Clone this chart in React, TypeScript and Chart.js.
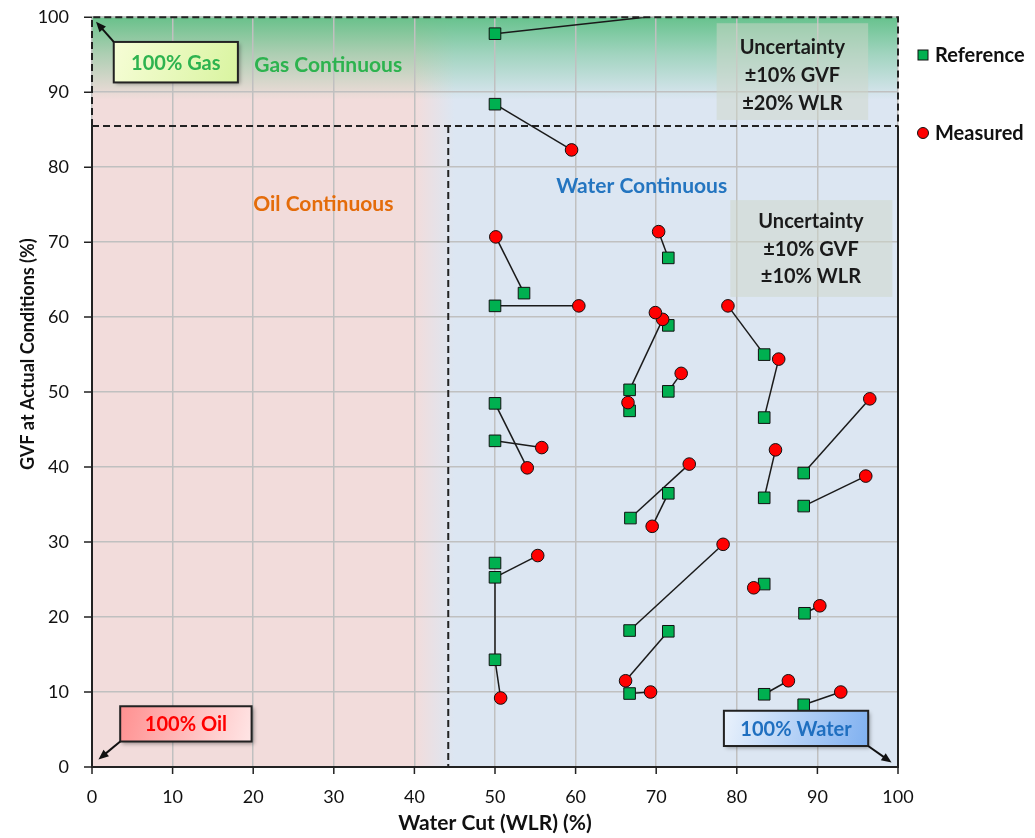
import React, { useEffect, useRef } from "react";
import { Chart, registerables } from "chart.js";

Chart.register(...registerables);

const FONT = 'Lato, "Noto Sans", sans-serif';

// Axis ticks
const xTickValues = [0, 10, 20, 30, 40, 50, 60, 70, 80, 90, 100];
const yTickValues = [0, 10, 20, 30, 40, 50, 60, 70, 80, 90, 100];

// Reference points (Water cut %, GVF %)
const refX = [50, 50, 53.6, 50, 71.5, 66.7, 71.5, 71.5, 66.7, 83.4, 83.4, 88.3, 50, 50, 83.4, 88.3, 66.8, 71.5, 50, 50, 50, 66.7, 71.5, 66.7, 83.4, 88.4, 83.4, 88.3];
const refY = [97.8, 88.4, 63.2, 61.5, 67.9, 50.3, 58.9, 50.1, 47.5, 55.0, 46.6, 39.2, 48.5, 43.5, 35.9, 34.8, 33.2, 36.5, 27.2, 25.3, 14.3, 18.2, 18.1, 9.8, 24.4, 20.5, 9.7, 8.3];

// Measured points paired with the reference of the same index (null = no pair)
const measX = [78, 59.5, 50.1, 60.4, 70.3, 70.8, 69.9, 73.1, 66.5, 78.9, 85.2, 96.5, 54.0, 55.8, 84.8, 96.0, 74.1, 69.5, null, 55.3, 50.7, 78.3, 66.2, 69.3, 82.1, 90.3, 86.4, 92.9];
const measY = [101.1, 82.3, 70.7, 61.5, 71.4, 59.7, 60.6, 52.5, 48.6, 61.5, 54.4, 49.1, 39.9, 42.6, 42.3, 38.8, 40.4, 32.1, null, 28.2, 9.2, 29.7, 11.5, 10.0, 23.9, 21.5, 11.5, 10.0];

// Extra links between reference points (index pairs)
const extraLinkFrom = [19];
const extraLinkTo = [20];

// Region boundaries
const gasBoundaryGVF = 85.5;
const waterBoundaryWLR = 44.2;

const yTitle = "GVF at Actual Conditions (%)";
const xTitle = "Water Cut (WLR) (%)";

const overlayPlugin = {
  id: "overlay",
  beforeDraw(chart: any) {
    const { ctx, chartArea: a, scales } = chart;
    const X = (v: number) => scales.x.getPixelForValue(v);
    const Y = (v: number) => scales.y.getPixelForValue(v);
    ctx.save();
    const g = ctx.createLinearGradient(X(40), 0, X(45), 0);
    g.addColorStop(0, "#f2dcdb");
    g.addColorStop(1, "#dce6f2");
    ctx.fillStyle = g;
    ctx.fillRect(a.left, a.top, a.right - a.left, a.bottom - a.top);
    const gg = ctx.createLinearGradient(0, Y(100), 0, Y(89));
    gg.addColorStop(0, "rgba(90,190,130,0.9)");
    gg.addColorStop(0.45, "rgba(90,190,130,0.45)");
    gg.addColorStop(1, "rgba(90,190,130,0)");
    ctx.fillStyle = gg;
    ctx.fillRect(a.left, Y(100), a.right - a.left, Y(89) - Y(100));
    ctx.restore();
  },
  beforeDatasetsDraw(chart: any) {
    const { ctx, scales } = chart;
    const X = (v: number) => scales.x.getPixelForValue(v);
    const Y = (v: number) => scales.y.getPixelForValue(v);
    ctx.save();
    // uncertainty boxes
    ctx.fillStyle = "rgba(205,214,200,0.5)";
    ctx.fillRect(X(77.5), Y(99.2), X(96.3) - X(77.5), Y(86.3) - Y(99.2));
    ctx.fillRect(X(79.2), Y(75.6), X(99.3) - X(79.2), Y(62.7) - Y(75.6));
    ctx.fillStyle = "#1a1a1a";
    ctx.font = `bold 20px ${FONT}`;
    ctx.textAlign = "center";
    ctx.textBaseline = "middle";
    ["Uncertainty", "±10% GVF", "±20% WLR"].forEach((t, i) => ctx.fillText(t, X(86.9), Y(96.0) + i * 28));
    ["Uncertainty", "±10% GVF", "±10% WLR"].forEach((t, i) => ctx.fillText(t, X(89.2), Y(72.7) + i * 27.5));

    // region labels
    ctx.font = `bold 21px ${FONT}`;
    ctx.fillStyle = "#2db34f";
    ctx.fillText("Gas Continuous", X(29.3), Y(93.6));
    ctx.fillStyle = "#e46c0a";
    ctx.fillText("Oil Continuous", X(28.7), Y(75.1));
    ctx.fillStyle = "#2475c0";
    ctx.fillText("Water Continuous", X(68.2), Y(77.4));

    // solid axis lines
    ctx.strokeStyle = "#222";
    ctx.lineWidth = 2;
    ctx.setLineDash([]);
    ctx.beginPath();
    ctx.moveTo(X(0), Y(gasBoundaryGVF));
    ctx.lineTo(X(0), Y(0));
    ctx.lineTo(X(100), Y(0));
    ctx.lineTo(X(100), Y(gasBoundaryGVF));
    ctx.stroke();
    // tick marks
    ctx.lineWidth = 1.5;
    ctx.beginPath();
    yTickValues.forEach((v) => {
      ctx.moveTo(X(0) - 8, Y(v));
      ctx.lineTo(X(0), Y(v));
    });
    xTickValues.forEach((v) => {
      ctx.moveTo(X(v), Y(0));
      ctx.lineTo(X(v), Y(0) + 7);
    });
    ctx.stroke();
    // dashed boundaries
    ctx.lineWidth = 2;
    ctx.setLineDash([7, 4]);
    ctx.beginPath();
    ctx.moveTo(X(0), Y(gasBoundaryGVF));
    ctx.lineTo(X(0), Y(100));
    ctx.lineTo(X(100), Y(100));
    ctx.lineTo(X(100), Y(gasBoundaryGVF));
    ctx.moveTo(X(0), Y(gasBoundaryGVF));
    ctx.lineTo(X(100), Y(gasBoundaryGVF));
    ctx.moveTo(X(waterBoundaryWLR), Y(gasBoundaryGVF));
    ctx.lineTo(X(waterBoundaryWLR), Y(0));
    ctx.stroke();
    ctx.restore();
  },
  afterDatasetsDraw(chart: any) {
    const { ctx, scales } = chart;
    const X = (v: number) => scales.x.getPixelForValue(v);
    const Y = (v: number) => scales.y.getPixelForValue(v);

    const arrow = (x1: number, y1: number, x2: number, y2: number) => {
      ctx.save();
      ctx.strokeStyle = "#111";
      ctx.fillStyle = "#111";
      ctx.lineWidth = 2;
      ctx.setLineDash([]);
      const ang = Math.atan2(y2 - y1, x2 - x1);
      const hl = 11;
      ctx.beginPath();
      ctx.moveTo(x1, y1);
      ctx.lineTo(x2 - Math.cos(ang) * hl * 0.8, y2 - Math.sin(ang) * hl * 0.8);
      ctx.stroke();
      ctx.beginPath();
      ctx.moveTo(x2, y2);
      ctx.lineTo(x2 - hl * Math.cos(ang - 0.4), y2 - hl * Math.sin(ang - 0.4));
      ctx.lineTo(x2 - hl * Math.cos(ang + 0.4), y2 - hl * Math.sin(ang + 0.4));
      ctx.closePath();
      ctx.fill();
      ctx.restore();
    };

    const box = (x0: number, y0: number, x1: number, y1: number, c0: string, c1: string, text: string, tc: string) => {
      const l = X(x0), t = Y(y0), r = X(x1), b = Y(y1);
      ctx.save();
      const g = ctx.createLinearGradient(l, t, r, b);
      g.addColorStop(0, c0);
      g.addColorStop(1, c1);
      ctx.shadowColor = "rgba(0,0,0,0.35)";
      ctx.shadowBlur = 4;
      ctx.shadowOffsetX = 2;
      ctx.shadowOffsetY = 2;
      ctx.fillStyle = g;
      ctx.fillRect(l, t, r - l, b - t);
      ctx.shadowColor = "transparent";
      ctx.strokeStyle = "#222";
      ctx.lineWidth = 2;
      ctx.strokeRect(l, t, r - l, b - t);
      ctx.fillStyle = tc;
      ctx.font = `bold 20px ${FONT}`;
      ctx.textAlign = "center";
      ctx.textBaseline = "middle";
      ctx.fillText(text, (l + r) / 2, (t + b) / 2 + 1);
      ctx.restore();
    };

    box(2.7, 96.7, 18.1, 91.3, "#f6fdd6", "#d9f4a0", "100% Gas", "#2db34f");
    arrow(X(2.7), Y(96.7), X(0.5), Y(99.4));
    box(3.5, 8.1, 19.8, 3.4, "#ff9090", "#ffe6e6", "100% Oil", "#ff0000");
    arrow(X(3.5), Y(3.4), X(0.8), Y(1.0));
    box(78.4, 7.5, 96.3, 2.8, "#eaf2fc", "#7fb0f0", "100% Water", "#1f6fc0");
    arrow(X(96.3), Y(2.8), X(99.2), Y(0.6));
  },
  afterDraw(chart: any) {
    const { ctx } = chart;
    ctx.save();
    // legend
    ctx.font = `bold 20px ${FONT}`;
    ctx.textAlign = "left";
    ctx.textBaseline = "middle";
    ctx.fillStyle = "#00b050";
    ctx.strokeStyle = "#111";
    ctx.lineWidth = 1;
    ctx.fillRect(910, 42, 10, 10);
    ctx.strokeRect(910, 42, 10, 10);
    ctx.beginPath();
    ctx.arc(915, 125, 5.5, 0, Math.PI * 2);
    ctx.fillStyle = "#ff0000";
    ctx.fill();
    ctx.stroke();
    ctx.fillStyle = "#111";
    ctx.fillText("Reference", 927, 48);
    ctx.fillText("Measured", 927, 126);
    // y title
    ctx.font = `bold 18px ${FONT}`;
    const w = ctx.measureText(yTitle).width;
    ctx.translate(20, 462 - w / 2);
    ctx.rotate(-Math.PI / 2);
    ctx.textAlign = "center";
    ctx.fillText(yTitle, 0, 0);
    ctx.restore();
  },
};

export default function App() {
  const ref = useRef<HTMLCanvasElement | null>(null);
  useEffect(() => {
    if (!ref.current) return;
    const links: any[] = [];
    refX.forEach((x, i) => {
      if (measX[i] !== null && measY[i] !== null) {
        links.push([{ x, y: refY[i] }, { x: measX[i], y: measY[i] }]);
      }
    });
    extraLinkFrom.forEach((f, k) => {
      const t = extraLinkTo[k];
      links.push([{ x: refX[f], y: refY[f] }, { x: refX[t], y: refY[t] }]);
    });
    const linkSets = links.map((d) => ({
      type: "line" as const,
      data: d,
      borderColor: "#1a1a1a",
      borderWidth: 1.5,
      pointRadius: 0,
      fill: false,
      clip: 0,
      order: 3,
    }));
    const measPts = measX
      .map((x, i) => (x === null ? null : { x, y: measY[i] }))
      .filter((p) => p !== null);
    const chart = new Chart(ref.current, {
      type: "scatter",
      data: {
        datasets: [
          {
            label: "Reference",
            data: refX.map((x, i) => ({ x, y: refY[i] })),
            pointStyle: "rect",
            pointRadius: 8.2,
            backgroundColor: "#00b050",
            borderColor: "#111",
            borderWidth: 1,
            clip: 0,
            order: 2,
          },
          {
            label: "Measured",
            data: measPts as any,
            pointStyle: "circle",
            pointRadius: 6.3,
            backgroundColor: "#ff0000",
            borderColor: "#111",
            borderWidth: 1,
            clip: 0,
            order: 1,
          },
          ...linkSets,
        ] as any,
      },
      options: {
        responsive: false,
        animation: false,
        devicePixelRatio: 1,
        layout: { padding: { left: 0, right: 129, top: 9, bottom: 0 } },
        plugins: { legend: { display: false }, tooltip: { enabled: false } },
        scales: {
          x: {
            type: "linear",
            min: 0,
            max: 100,
            afterFit: (s: any) => {
              s.height = 69;
              s.paddingLeft = 0;
              s.paddingRight = 0;
            },
            afterBuildTicks: (s: any) => {
              s.ticks = xTickValues.map((v) => ({ value: v }));
            },
            grid: { color: "#c0c0c0", lineWidth: 1.5, drawTicks: false },
            border: { display: false },
            ticks: { color: "#111", font: { family: FONT, size: 18 }, padding: 19, maxRotation: 0 },
            title: {
              display: true,
              text: xTitle,
              color: "#111",
              font: { family: FONT, size: 21, weight: "bold" },
              padding: { top: 0, bottom: 0 },
            },
          },
          y: {
            type: "linear",
            min: 0,
            max: 100,
            afterFit: (s: any) => {
              s.width = 84;
              s.paddingTop = 0;
              s.paddingBottom = 0;
            },
            afterBuildTicks: (s: any) => {
              s.ticks = yTickValues.map((v) => ({ value: v }));
            },
            grid: { color: "#c0c0c0", lineWidth: 1.5, drawTicks: false },
            border: { display: false },
            ticks: { color: "#111", font: { family: FONT, size: 18 }, padding: 23 },
            title: { display: false },
          },
        },
      },
      plugins: [overlayPlugin],
    });
    return () => chart.destroy();
  }, []);
  return (
    <div style={{ width: 1019, height: 828 }}>
      <canvas ref={ref} width={1019} height={828} style={{ display: "block" }} />
    </div>
  );
}
